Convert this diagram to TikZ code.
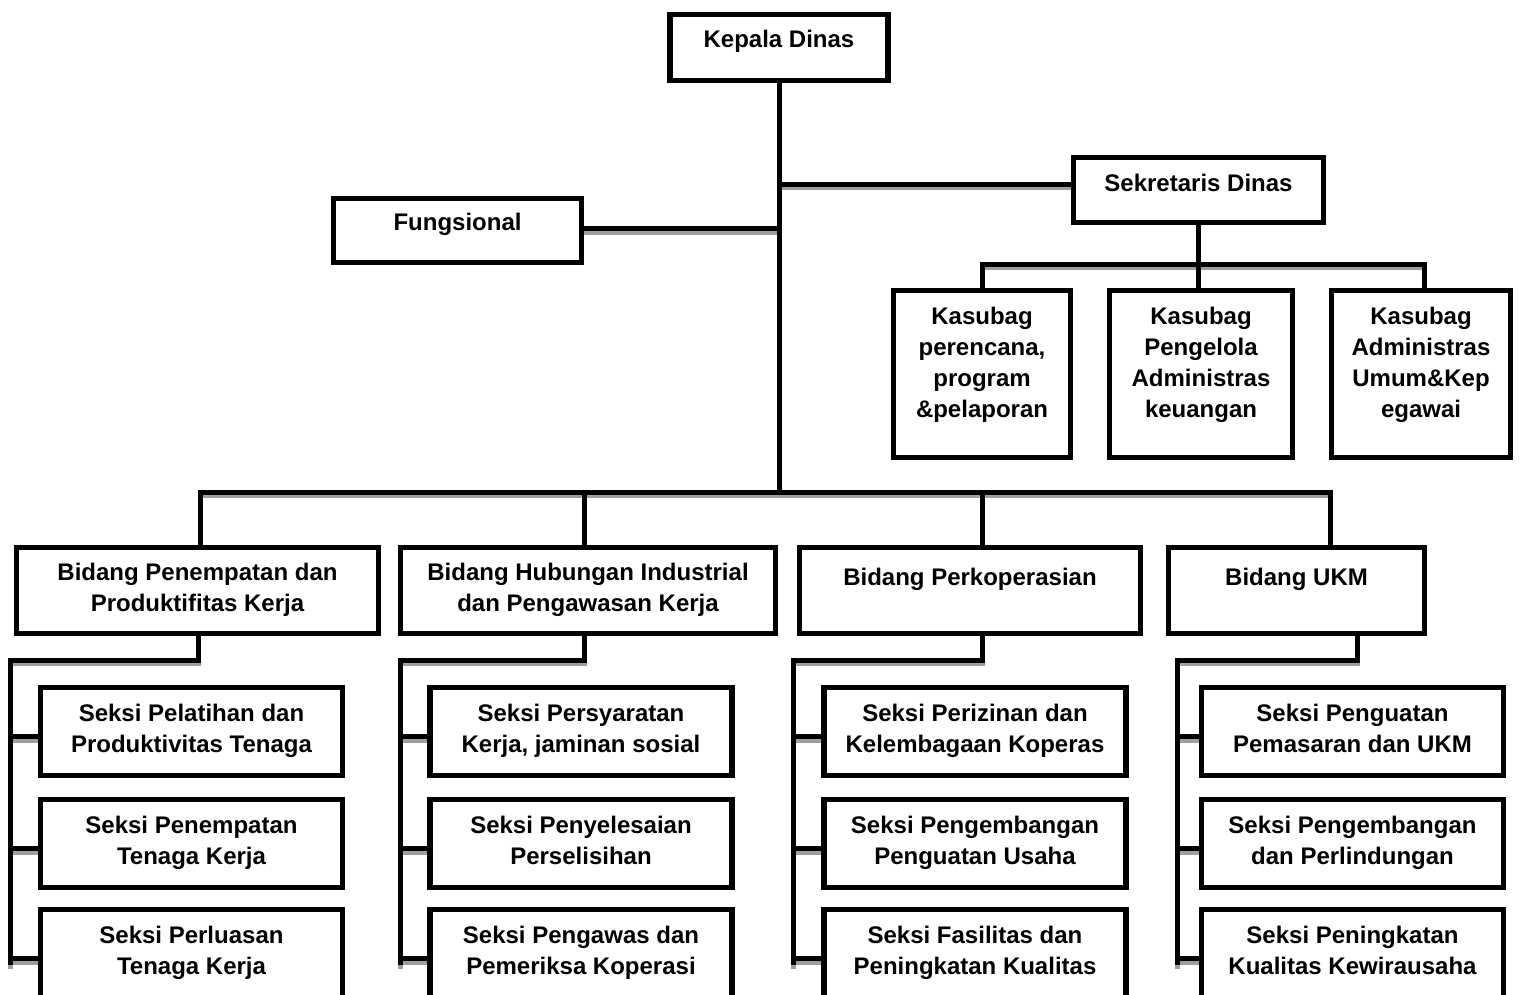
\documentclass[tikz,border=0pt]{standalone}
\usepackage{fontspec}
\setmainfont{Liberation Sans}
\definecolor{orgshadow}{HTML}{9E9E9E}
\usetikzlibrary{positioning, calc, backgrounds}
% lifts the (multi-line) text of a box without changing its size
\newcommand{\boxtext}[2]{\raisebox{#1}[\height][\depth]{\begin{tabular}{@{}c@{}}#2\end{tabular}}}
% all connectors of the chart, drawn twice (shadow, then line)
\newcommand{\orglinks}{%
   % head down to the bidang bar
   \draw (kepala.south) -- (kepala.south |- hub);
   \draw ([yshift=6pt]sekretaris.west) -- ([yshift=6pt]sekretaris.west -| kepala.south);
   \draw ([yshift=2pt]fungsional.east) -- ([yshift=2pt]fungsional.east -| kepala.south);
   % sekretaris to kasubag
   \draw (sekretaris.south) -- (sekretaris.south |- kas2.north);
   \draw (kas1.north) -- (kas1.north |- sekbar) -- (sekbar) -- (sekbar |- kas3.north);
   % bidang bar
   \draw (barL |- bid1.north) -- (barL) -- (barR) -- (barR |- bid4.north);
   \draw (drop2) -- (drop2 |- bid2.north);
   \draw (drop3) -- (drop3 |- bid3.north);
   % bidang to seksi
   \draw (fork1 |- bid1.south) -- (fork1) -- (rail1) -- ([yshift=-9pt]rail1 |- s13.west);
   \draw (fork2 |- bid2.south) -- (fork2) -- (rail2) -- ([yshift=-9pt]rail2 |- s23.west);
   \draw (fork3 |- bid3.south) -- (fork3) -- (rail3) -- ([yshift=-9pt]rail3 |- s33.west);
   \draw (fork4 |- bid4.south) -- (fork4) -- (rail4) -- ([yshift=-9pt]rail4 |- s43.west);
   \draw ([yshift=-5pt]rail1 |- s11.west) -- ([yshift=-5pt]s11.west);
   \draw ([yshift=-5pt]rail1 |- s12.west) -- ([yshift=-5pt]s12.west);
   \draw ([yshift=-5pt]rail1 |- s13.west) -- ([yshift=-5pt]s13.west);
   \draw ([yshift=-5pt]rail2 |- s21.west) -- ([yshift=-5pt]s21.west);
   \draw ([yshift=-5pt]rail2 |- s22.west) -- ([yshift=-5pt]s22.west);
   \draw ([yshift=-5pt]rail2 |- s23.west) -- ([yshift=-5pt]s23.west);
   \draw ([yshift=-5pt]rail3 |- s31.west) -- ([yshift=-5pt]s31.west);
   \draw ([yshift=-5pt]rail3 |- s32.west) -- ([yshift=-5pt]s32.west);
   \draw ([yshift=-5pt]rail3 |- s33.west) -- ([yshift=-5pt]s33.west);
   \draw ([yshift=-5pt]rail4 |- s41.west) -- ([yshift=-5pt]s41.west);
   \draw ([yshift=-5pt]rail4 |- s42.west) -- ([yshift=-5pt]s42.west);
   \draw ([yshift=-5pt]rail4 |- s43.west) -- ([yshift=-5pt]s43.west);
}
\begin{document}
\begin{tikzpicture}[x=1pt, y=-1pt,
      box/.style={draw, line width=5.5pt, fill=white, inner sep=0pt,
         font=\fontsize{24}{31}\selectfont\bfseries},
      link/.style={line width=5pt, line cap=rect},
      linkshadow/.style={line width=5pt, line cap=rect, draw=orgshadow,
         transform canvas={yshift=-3.5pt}}]
   \useasboundingbox (0,0) rectangle (1522,994);
   \clip (0,0) rectangle (1522,994);
   % Top
   \node[box, minimum width=218pt, minimum height=66pt] (kepala) at (779,47.5) {\boxtext{6pt}{Kepala Dinas}};
   \node[box, minimum width=250pt, minimum height=65pt] (sekretaris) at (1198.5,190) {\boxtext{4.5pt}{Sekretaris Dinas}};
   \node[box, minimum width=248pt, minimum height=64pt] (fungsional) at (457.5,230.5) {\boxtext{6.5pt}{Fungsional}};
   % Kasubag
   \node[box, minimum width=177pt, minimum height=167pt] (kas1) at (982,374) {\boxtext{9pt}{Kasubag\\perencana,\\program\\\&pelaporan}};
   \node[box, minimum width=183pt, minimum height=167pt] (kas2) at (1201,374) {\boxtext{9pt}{Kasubag\\Pengelola\\Administras\\keuangan}};
   \node[box, minimum width=179pt, minimum height=167pt] (kas3) at (1421,374) {\boxtext{9pt}{Kasubag\\Administras\\Umum\&Kep\\egawai}};
   % Bidang
   \node[box, minimum width=362pt, minimum height=86pt] (bid1) at (197.5,590.5) {\boxtext{0.5pt}{Bidang Penempatan dan\\Produktifitas Kerja}};
   \node[box, minimum width=375pt, minimum height=86pt] (bid2) at (588,590.5) {\boxtext{0.5pt}{Bidang Hubungan Industrial\\dan Pengawasan Kerja}};
   \node[box, minimum width=341pt, minimum height=86pt] (bid3) at (970,590.5) {\boxtext{11pt}{Bidang Perkoperasian}};
   \node[box, minimum width=256pt, minimum height=86pt] (bid4) at (1296.5,590.5) {\boxtext{11pt}{Bidang UKM}};
   % Seksi
   \node[box, minimum width=302pt, minimum height=88pt] (s11) at (191.5,731.5) {\boxtext{0.5pt}{Seksi Pelatihan dan\\Produktivitas Tenaga}};
   \node[box, minimum width=302pt, minimum height=88pt] (s12) at (191.5,843.5) {\boxtext{0.5pt}{Seksi Penempatan\\Tenaga Kerja}};
   \node[box, minimum width=302pt, minimum height=88pt] (s13) at (191.5,953.5) {\boxtext{0.5pt}{Seksi Perluasan\\Tenaga Kerja}};
   \node[box, minimum width=302pt, minimum height=88pt] (s21) at (581,731.5) {\boxtext{0.5pt}{Seksi Persyaratan\\Kerja, jaminan sosial}};
   \node[box, minimum width=302pt, minimum height=88pt] (s22) at (581,843.5) {\boxtext{0.5pt}{Seksi Penyelesaian\\Perselisihan}};
   \node[box, minimum width=302pt, minimum height=88pt] (s23) at (581,953.5) {\boxtext{0.5pt}{Seksi Pengawas dan\\Pemeriksa Koperasi}};
   \node[box, minimum width=302pt, minimum height=88pt] (s31) at (975,731.5) {\boxtext{0.5pt}{Seksi Perizinan dan\\Kelembagaan Koperas}};
   \node[box, minimum width=302pt, minimum height=88pt] (s32) at (975,843.5) {\boxtext{0.5pt}{Seksi Pengembangan\\Penguatan Usaha}};
   \node[box, minimum width=302pt, minimum height=88pt] (s33) at (975,953.5) {\boxtext{0.5pt}{Seksi Fasilitas dan\\Peningkatan Kualitas}};
   \node[box, minimum width=302pt, minimum height=88pt] (s41) at (1352.5,731.5) {\boxtext{0.5pt}{Seksi Penguatan\\Pemasaran dan UKM}};
   \node[box, minimum width=302pt, minimum height=88pt] (s42) at (1352.5,843.5) {\boxtext{0.5pt}{Seksi Pengembangan\\dan Perlindungan}};
   \node[box, minimum width=302pt, minimum height=88pt] (s43) at (1352.5,953.5) {\boxtext{0.5pt}{Seksi Peningkatan\\Kualitas Kewirausaha}};
   % Junctions
   \coordinate (hub) at (779,492);
   \coordinate (sekbar) at (1424,264);
   \coordinate (barL) at (200,492);
   \coordinate (barR) at (1330,492);
   \coordinate (drop2) at (584,492);
   \coordinate (drop3) at (982,492);
   \coordinate (fork1) at (198,660);  \coordinate (rail1) at (10,660);
   \coordinate (fork2) at (584,660);  \coordinate (rail2) at (400,660);
   \coordinate (fork3) at (982,660);  \coordinate (rail3) at (793,660);
   \coordinate (fork4) at (1357,660); \coordinate (rail4) at (1177,660);
   % Connectors behind the boxes
   \begin{pgfonlayer}{background}
      \begin{scope}[every path/.style=linkshadow]
         \orglinks
      \end{scope}
      \begin{scope}[every path/.style=link]
         \orglinks
      \end{scope}
   \end{pgfonlayer}
\end{tikzpicture}
\end{document}
